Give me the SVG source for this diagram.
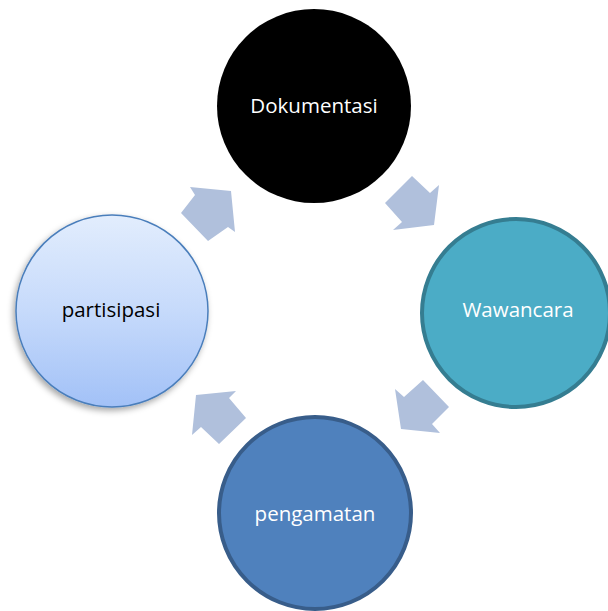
<svg xmlns="http://www.w3.org/2000/svg" width="608" height="611" viewBox="0 0 608 611">
<defs>
<linearGradient id="gp" x1="0" y1="0" x2="0" y2="1">
<stop offset="0" stop-color="#e2edfd"/>
<stop offset="0.5" stop-color="#c6dafb"/>
<stop offset="1" stop-color="#a2c1f7"/>
</linearGradient>
<filter id="sh" x="-20%" y="-20%" width="140%" height="140%">
<feDropShadow dx="-2" dy="3" stdDeviation="3" flood-color="#000" flood-opacity="0.35"/>
</filter>
</defs>
<style>
.arrow{fill:#b0c0dc}
.lbl{font-family:"Open Sans","Noto Sans",sans-serif;font-size:20.5px;text-anchor:middle}
</style>
<rect width="608" height="611" fill="#fff"/>
<g id="connectors">
<polygon class="arrow" points="385,203 412,176 430,193 439,185 434,225 393,230 402,222"/>
<polygon class="arrow" points="395,389 404,397 423,380 449,407 432,424 440,433 401,429"/>
<polygon class="arrow" points="196,395 236,391 229,398 246,418 219,444 201,427 192,435"/>
<polygon class="arrow" points="190,187 231,191 235,232 228,227 208,241 181,213 195,195"/>
</g>
<g id="dokumentasi">
<circle cx="314" cy="106" r="97" fill="#000"/>
<text class="lbl" x="314" y="113" fill="#fff">Dokumentasi</text>
</g>
<g id="wawancara">
<circle cx="516" cy="313" r="94" fill="#4bacc6" stroke="#357d91" stroke-width="4"/>
<text class="lbl" x="518" y="317" fill="#fff">Wawancara</text>
</g>
<g id="pengamatan">
<circle cx="315" cy="513" r="96" fill="#4f81bd" stroke="#385d8a" stroke-width="4"/>
<text class="lbl" x="315" y="521" fill="#fff">pengamatan</text>
</g>
<g id="partisipasi">
<circle cx="112" cy="311" r="96" fill="url(#gp)" stroke="#4a7ebb" stroke-width="1.5" filter="url(#sh)"/>
<text class="lbl" x="111" y="317" fill="#000">partisipasi</text>
</g>
</svg>
